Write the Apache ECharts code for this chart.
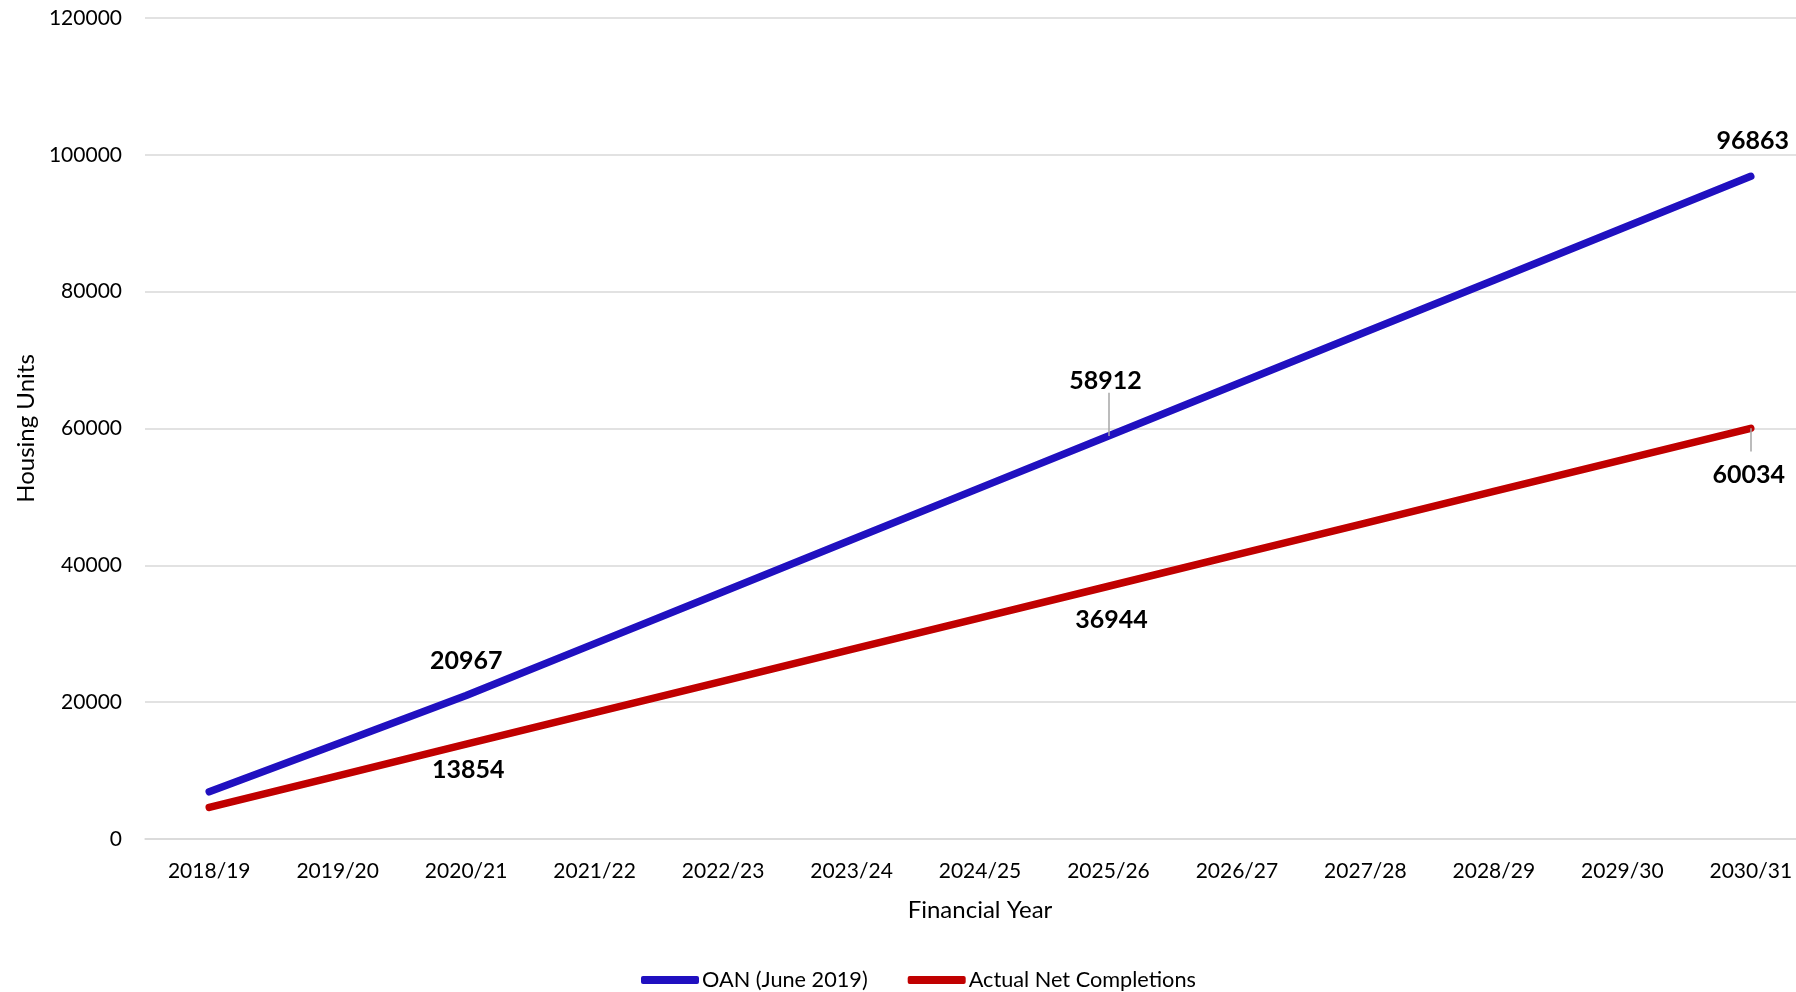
<!DOCTYPE html>
<html>
<head>
<meta charset="utf-8">
<script src="https://cdn.jsdelivr.net/npm/echarts@6/dist/echarts.min.js"></script>
<style>
html,body{margin:0;padding:0;background:#fff;}
#chart{width:1796px;height:992px;}
</style>
</head>
<body>
<div id="chart"></div>
<script>
const categories = ['2018/19','2019/20','2020/21','2021/22','2022/23','2023/24','2024/25','2025/26','2026/27','2027/28','2028/29','2029/30','2030/31'];
const oanValues = [6900, 13930, 20967, 28556, 36145, 43734, 51323, 58912, 66502, 74092, 81682, 89272, 96863];
const completionValues = [4620, 9237, 13854, 18472, 23090, 27708, 32326, 36944, 41562, 46180, 50798, 55416, 60034];
const yTicks = [0, 20000, 40000, 60000, 80000, 100000, 120000];
const labelledIdx = [2, 7, 12];
const seriesNames = ['OAN (June 2019)', 'Actual Net Completions'];

const FONT = 'Lato';
const chart = echarts.init(document.getElementById('chart'));

// label placement per labelled point [dx, dy] in pixels
const oanLabelPos = {2: [0, -35], 7: [-3, -55], 12: [2, -35]};
const compLabelPos = {2: [2, 26], 7: [3, 34], 12: [-2, 47]};
// leader lines: data index and length (in axis units, sign = direction)
const oanLeader = {idx: 7, len: 6300};
const compLeader = {idx: 12, len: -3400};

function buildData(values, posMap) {
  return values.map((v, i) => {
    if (labelledIdx.indexOf(i) >= 0) {
      return {value: v, label: {show: true, position: 'inside', offset: posMap[i]}};
    }
    return {value: v};
  });
}

function leaderLine(values, leader) {
  return {
    silent: true,
    symbol: 'none',
    label: {show: false},
    lineStyle: {color: '#A6A6A6', width: 1.5, type: 'solid'},
    data: [[
      {coord: [leader.idx, values[leader.idx]]},
      {coord: [leader.idx, values[leader.idx] + leader.len]}
    ]]
  };
}

const labelStyle = {
  fontFamily: FONT, fontWeight: 'bold', fontSize: 25, color: '#000'
};

chart.setOption({
  animation: false,
  backgroundColor: '#fff',
  grid: {left: 145, top: 18, right: -19, bottom: 153, containLabel: false, outerBoundsMode: 'none'},
  legend: {
    bottom: -4,
    left: 636,
    itemWidth: 58,
    itemHeight: 8,
    itemGap: 40,
    icon: 'roundRect',
    textStyle: {fontFamily: FONT, fontSize: 21.7, color: '#000', padding: [0,0,0,-2]},
    data: seriesNames
  },
  xAxis: {
    type: 'category',
    data: categories,
    boundaryGap: true,
    name: 'Financial Year',
    nameLocation: 'middle',
    nameGap: 59,
    nameTextStyle: {fontFamily: FONT, fontSize: 24, color: '#000'},
    axisLine: {show: true, lineStyle: {color: '#D9D9D9', width: 1.5}},
    axisTick: {show: false},
    axisLabel: {fontFamily: FONT, fontSize: 21, color: '#000', margin: 22}
  },
  yAxis: {
    type: 'value',
    min: yTicks[0],
    max: yTicks[yTicks.length - 1],
    interval: yTicks[1] - yTicks[0],
    name: 'Housing Units',
    nameLocation: 'middle',
    nameGap: 107,
    nameRotate: 90,
    nameTextStyle: {fontFamily: FONT, fontSize: 24, color: '#000'},
    axisLine: {show: false},
    axisTick: {show: false},
    splitLine: {lineStyle: {color: '#D9D9D9', width: 1.5}},
    axisLabel: {fontFamily: FONT, fontSize: 21, color: '#000', margin: 23, formatter: v => String(v)}
  },
  series: [
    {
      name: seriesNames[0],
      type: 'line',
      data: buildData(oanValues, oanLabelPos),
      symbol: 'circle',
      symbolSize: 0,
      showSymbol: true,
      lineStyle: {color: '#2010C0', width: 7.5, cap: 'round', join: 'round'},
      itemStyle: {color: '#2010C0'},
      label: Object.assign({show: false}, labelStyle),
      markLine: leaderLine(oanValues, oanLeader),
      z: 3
    },
    {
      name: seriesNames[1],
      type: 'line',
      data: buildData(completionValues, compLabelPos),
      symbol: 'circle',
      symbolSize: 0,
      showSymbol: true,
      lineStyle: {color: '#C00000', width: 7.5, cap: 'round', join: 'round'},
      itemStyle: {color: '#C00000'},
      label: Object.assign({show: false}, labelStyle),
      markLine: leaderLine(completionValues, compLeader),
      z: 2
    }
  ]
});
</script>
</body>
</html>
